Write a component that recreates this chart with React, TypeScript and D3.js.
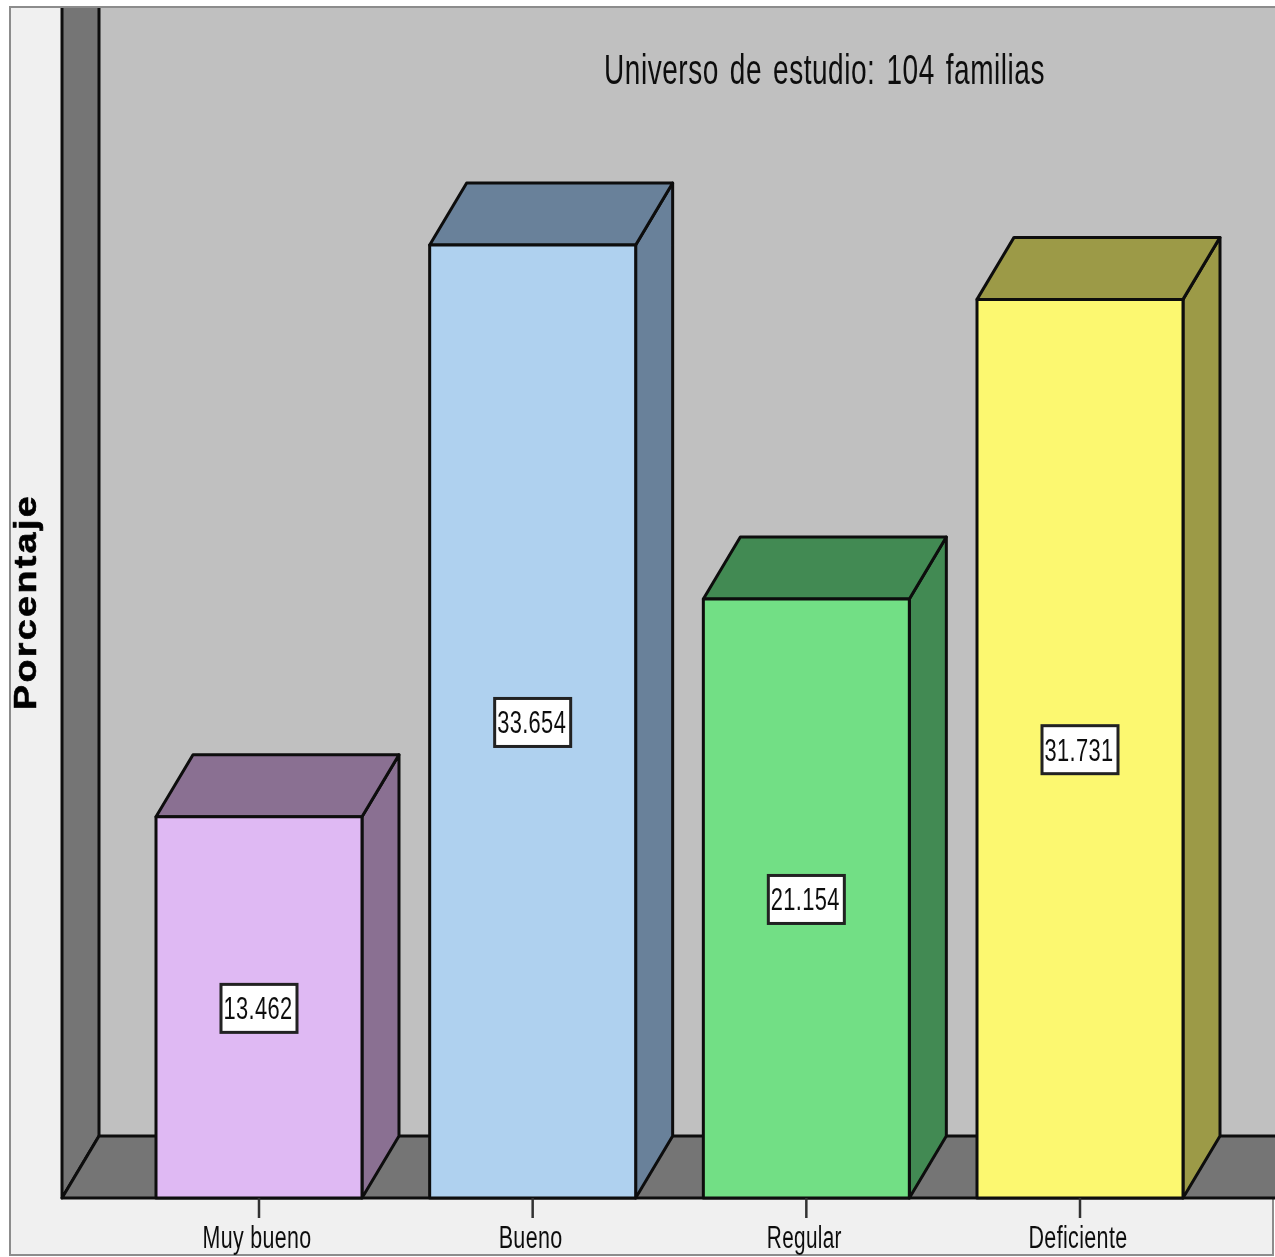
import React, { useEffect, useRef } from 'react';
import * as d3 from 'd3';

const categories = ['Muy bueno', 'Bueno', 'Regular', 'Deficiente'];
const percentages = [13.462, 33.654, 21.154, 31.731];
const frontColors = ['#dfb9f3', '#afd1ef', '#72df85', '#fcf870'];
const shadeColors = ['#8a7092', '#69819a', '#438a53', '#9c9a47'];
const tickTextWidths = [109, 64, 75, 99];

const App = () => {
  const ref = useRef<SVGSVGElement>(null);

  useEffect(() => {
    if (!ref.current) return;
    const svg = d3.select(ref.current);
    svg.selectAll('*').remove();

    const width = 1275;
    const height = 1257;
    const depth = { x: 37, y: -62 };
    const stroke = '#0d0d0d';

    svg.attr('viewBox', `0 0 ${width} ${height}`);

    // the source is a blurry upscaled screenshot
    const defs = svg.append('defs');
    defs.append('filter').attr('id', 'soft').append('feGaussianBlur').attr('stdDeviation', 0.7);
    defs.append('filter').attr('id', 'softText').append('feGaussianBlur').attr('stdDeviation', 0.35);

    const root = svg.append('g').attr('filter', 'url(#soft)');
    const labels = svg.append('g').attr('filter', 'url(#softText)');

    // ------- Scales -------
    const x = d3
      .scaleBand<string>()
      .domain(categories)
      .range([156, 1183])
      .paddingInner(0.2473)
      .paddingOuter(0);

    const y = d3.scaleLinear().domain([0, 40]).range([1198, 65.2]);
    const floor = y(0);

    // ------- Panel -------
    root
      .append('rect')
      .attr('x', 10)
      .attr('y', 7)
      .attr('width', 1263)
      .attr('height', 1248)
      .attr('fill', '#f0f0f0')
      .attr('stroke', '#8c8c8c')
      .attr('stroke-width', 2);

    // ------- Walls and floor -------
    const poly = (pts: [number, number][], fill: string) =>
      root
        .append('polygon')
        .attr('points', pts.map((p) => p.join(',')).join(' '))
        .attr('fill', fill)
        .attr('stroke', stroke)
        .attr('stroke-width', 3)
        .attr('stroke-linejoin', 'round');

    const wallTop = 8;
    const left = 62;
    const right = 1278;

    root
      .append('rect')
      .attr('x', left + depth.x)
      .attr('y', wallTop)
      .attr('width', right - left - depth.x)
      .attr('height', floor + depth.y - wallTop)
      .attr('fill', '#c0c0c0');

    poly(
      [
        [left, floor],
        [left + depth.x, floor + depth.y],
        [left + depth.x, wallTop - 4],
        [left, wallTop - 4],
      ],
      '#757575',
    );
    poly(
      [
        [left, floor],
        [left + depth.x, floor + depth.y],
        [right, floor + depth.y],
        [right, floor],
      ],
      '#757575',
    );

    // top edge and the white surround cover the overshoot of the walls
    root
      .append('line')
      .attr('x1', 10)
      .attr('x2', width)
      .attr('y1', 7)
      .attr('y2', 7)
      .attr('stroke', '#8c8c8c')
      .attr('stroke-width', 2);
    root
      .append('rect')
      .attr('x', 0)
      .attr('y', 0)
      .attr('width', width)
      .attr('height', 6)
      .attr('fill', '#fff');

    // ------- Bars -------
    categories.forEach((cat, i) => {
      const x0 = x(cat)!;
      const x1 = x0 + x.bandwidth();
      const top = y(percentages[i]);

      poly(
        [
          [x1, floor],
          [x1 + depth.x, floor + depth.y],
          [x1 + depth.x, top + depth.y],
          [x1, top],
        ],
        shadeColors[i],
      );
      poly(
        [
          [x0, top],
          [x0 + depth.x, top + depth.y],
          [x1 + depth.x, top + depth.y],
          [x1, top],
        ],
        shadeColors[i],
      );
      poly(
        [
          [x0, floor],
          [x0, top],
          [x1, top],
          [x1, floor],
        ],
        frontColors[i],
      );
    });

    // ------- Value labels -------
    const font = '"Liberation Sans", Arial, sans-serif';
    categories.forEach((cat, i) => {
      const cx = x(cat)! + x.bandwidth() / 2;
      const cy = (y(percentages[i]) + floor) / 2 + 1;
      root
        .append('rect')
        .attr('x', cx - 38)
        .attr('y', cy - 24)
        .attr('width', 76)
        .attr('height', 48)
        .attr('fill', '#fff')
        .attr('stroke', '#222')
        .attr('stroke-width', 3);
      labels
        .append('text')
        .attr('x', cx - 1)
        .attr('y', cy + 11)
        .attr('text-anchor', 'middle')
        .attr('font-family', font)
        .attr('font-size', 31)
        .attr('letter-spacing', 0.5)
        .attr('textLength', 69)
        .attr('lengthAdjust', 'spacingAndGlyphs')
        .attr('fill', '#111')
        .text(percentages[i].toFixed(3));
    });

    // ------- Axis -------
    const axis = root
      .append('g')
      .attr('transform', `translate(0, ${floor})`)
      .call(d3.axisBottom(x).tickSize(20).tickPadding(6).tickSizeOuter(0));
    axis.select('.domain').remove();
    axis.selectAll('.tick text').remove();
    axis.selectAll('.tick line').attr('stroke', '#333').attr('stroke-width', 2.5);

    labels
      .append('g')
      .attr('transform', `translate(0, ${floor})`)
      .call(d3.axisBottom(x).tickSize(20).tickPadding(6).tickSizeOuter(0))
      .call((g) => g.select('.domain').remove())
      .call((g) => g.selectAll('.tick line').remove())
      .selectAll<SVGTextElement, string>('.tick text')
      .attr('font-family', font)
      .attr('font-size', 31)
      .attr('letter-spacing', 0.5)
      .attr('fill', '#111')
      .attr('dx', -2)
      .attr('dy', '0.78em')
      .attr('textLength', (_, i) => tickTextWidths[i])
      .attr('lengthAdjust', 'spacingAndGlyphs');

    // ------- Titles -------
    labels
      .append('text')
      .attr('x', 604)
      .attr('y', 84)
      .attr('font-family', font)
      .attr('font-size', 42)
      .attr('letter-spacing', 0.8)
      .attr('word-spacing', 4)
      .attr('textLength', 441)
      .attr('lengthAdjust', 'spacingAndGlyphs')
      .attr('fill', '#111')
      .text('Universo de estudio: 104 familias');

    labels
      .append('text')
      .attr('transform', 'translate(36, 602) rotate(-90)')
      .attr('text-anchor', 'middle')
      .attr('font-family', font)
      .attr('font-weight', 'bold')
      .attr('font-size', 32)
      .attr('letter-spacing', 2)
      .attr('textLength', 216)
      .attr('lengthAdjust', 'spacingAndGlyphs')
      .attr('fill', '#000')
      .attr('stroke', '#000')
      .attr('stroke-width', 0.6)
      .text('Porcentaje');
  }, []);

  return (
    <svg
      ref={ref}
      width={1275}
      height={1257}
      style={{ position: 'absolute', left: 0, top: 0, display: 'block' }}
    />
  );
};

export default App;
